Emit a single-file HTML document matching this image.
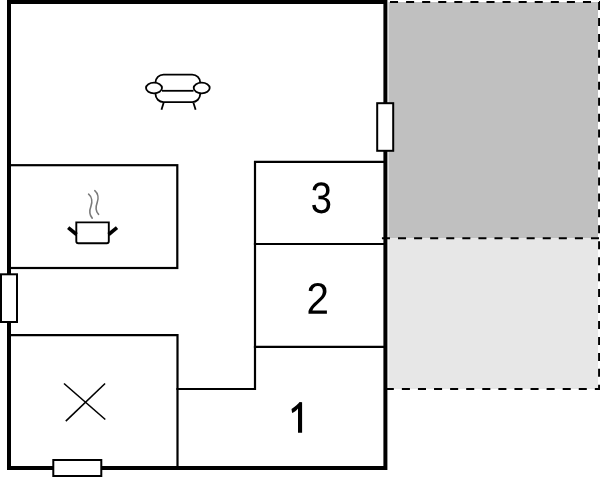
<!DOCTYPE html>
<html><head><meta charset="utf-8"><style>
html,body{margin:0;padding:0;background:#fff;width:600px;height:477px;overflow:hidden}
svg{display:block}
text{font-family:"Liberation Sans",sans-serif;font-size:42px;fill:#000}
</style></head><body>
<svg width="600" height="477" viewBox="0 0 600 477">
<!-- grey annex -->
<rect x="388.5" y="2" width="209.5" height="236.3" fill="#c0c0c0"/>
<rect x="388.5" y="238.3" width="209.5" height="150.7" fill="#e7e7e7"/>
<g stroke="#000" stroke-width="2" fill="none">
<line x1="390" y1="2" x2="600" y2="2" stroke-dasharray="8.04 8.04"/>
<line x1="381.92" y1="238.3" x2="600" y2="238.3" stroke-dasharray="8.04 8.04"/>
<line x1="385.8" y1="389" x2="600" y2="389" stroke-dasharray="8.04 8.04"/>
<line x1="599.1" y1="2" x2="599.1" y2="390" stroke-dasharray="7.975 7.975"/>
</g>
<!-- interior walls -->
<g stroke="#000" stroke-width="2.2" fill="none" stroke-linecap="square">
<rect x="9" y="165.2" width="168.3" height="102.8"/>
<polyline points="9,335.1 177.5,335.1 177.5,468"/>
<polyline points="177.5,389 255,389 255,161.8 385.4,161.8"/>
<line x1="255" y1="244" x2="385.4" y2="244"/>
<line x1="255" y1="346.8" x2="385.4" y2="346.8"/>
</g>
<!-- outer walls -->
<rect x="9" y="2" width="376.4" height="466" fill="none" stroke="#000" stroke-width="4"/>
<!-- windows -->
<g fill="#fff" stroke="#000" stroke-width="2">
<rect x="1" y="274.3" width="16" height="47.7"/>
<rect x="377.2" y="103.2" width="16" height="47.6"/>
<rect x="53.3" y="460" width="48" height="16"/>
</g>
<!-- X -->
<g stroke="#000" stroke-width="1.6" fill="none">
<line x1="64" y1="383.5" x2="105.3" y2="419.5"/>
<line x1="105.1" y1="383.5" x2="65.8" y2="421.2"/>
</g>
<!-- sofa -->
<g stroke="#000" stroke-width="1.8" fill="none">
<path d="M155.5,83 V82.6 A8,8 0 0 1 163.5,74.6 H192.2 A8,8 0 0 1 200.2,82.6 V83"/>
<path d="M155.5,93 V94.1 A8,8 0 0 0 163.5,102.1 H192.2 A8,8 0 0 0 200.2,94.1 V93"/>
<line x1="162" y1="90.8" x2="193.5" y2="90.8"/>
<ellipse cx="154" cy="88" rx="8" ry="5.3" fill="#fff"/>
<ellipse cx="201.7" cy="88" rx="8" ry="5.3" fill="#fff"/>
<line x1="163.6" y1="102.8" x2="161.5" y2="109.7"/>
<line x1="193.4" y1="102.8" x2="195.6" y2="109.7"/>
</g>
<!-- pot -->
<g stroke="#000" fill="none">
<path d="M76.3,222.4 H108.8 V241.3 A2,2 0 0 1 106.8,243.3 H78.3 A2,2 0 0 1 76.3,241.3 Z" stroke-width="1.9"/>
<line x1="68.2" y1="227.7" x2="76.6" y2="234.5" stroke-width="3.6"/>
<line x1="108.6" y1="234.5" x2="117" y2="227.7" stroke-width="3.6"/>
</g>
<g stroke="#7a7a7a" stroke-width="1.6" fill="none" stroke-linecap="round">
<path d="M88.6,194.2 C92,197 92.5,202 91,206 C89.5,210 89.5,215 92.2,218.1"/>
<path d="M94.8,190.7 C98.2,193.5 98.7,198.5 97.2,202.5 C95.7,206.5 95.7,211.5 98.6,214.3"/>
</g>
<!-- labels -->
<g fill="#000">
<path d="M330.3 204.6Q330.3 208.8 327.98 211.1Q325.65 213.4 321.34 213.4Q317.33 213.4 314.94 211.32Q312.55 209.25 312.1 205.18L315.59 204.81Q316.26 210.19 321.34 210.19Q323.89 210.19 325.34 208.75Q326.79 207.31 326.79 204.47Q326.79 202 325.14 200.61Q323.48 199.22 320.35 199.22H318.44V195.86H320.27Q323.05 195.86 324.57 194.48Q326.1 193.09 326.1 190.63Q326.1 188.2 324.85 186.79Q323.61 185.38 321.15 185.38Q318.92 185.38 317.55 186.7Q316.17 188.01 315.94 190.4L312.55 190.1Q312.92 186.37 315.24 184.29Q317.55 182.2 321.19 182.2Q325.16 182.2 327.37 184.32Q329.57 186.44 329.57 190.23Q329.57 193.13 328.15 194.95Q326.74 196.77 324.04 197.41V197.5Q327 197.86 328.65 199.78Q330.3 201.69 330.3 204.6Z"/>
<path d="M308.5 313.8V311.06Q309.51 308.53 310.96 306.59Q312.4 304.66 314 303.09Q315.6 301.53 317.17 300.19Q318.74 298.85 320 297.51Q321.26 296.17 322.04 294.7Q322.82 293.23 322.82 291.37Q322.82 288.86 321.48 287.48Q320.14 286.1 317.75 286.1Q315.48 286.1 314.01 287.45Q312.54 288.8 312.29 291.24L308.66 290.87Q309.05 287.22 311.49 285.06Q313.92 282.9 317.75 282.9Q321.95 282.9 324.21 285.07Q326.47 287.24 326.47 291.24Q326.47 293.01 325.73 294.76Q324.99 296.51 323.53 298.26Q322.07 300.01 317.95 303.69Q315.68 305.72 314.34 307.35Q313 308.98 312.4 310.49H326.9V313.8Z"/>
<path d="M298,432.7 L302.1,432.7 L302.1,402.3 L299.6,402.1 C297.8,404.6 295,406.9 291.5,408.9 L292.1,413.1 C294.4,412 296.4,410.3 298,408.4 Z"/>
</g>
</svg>
</body></html>
